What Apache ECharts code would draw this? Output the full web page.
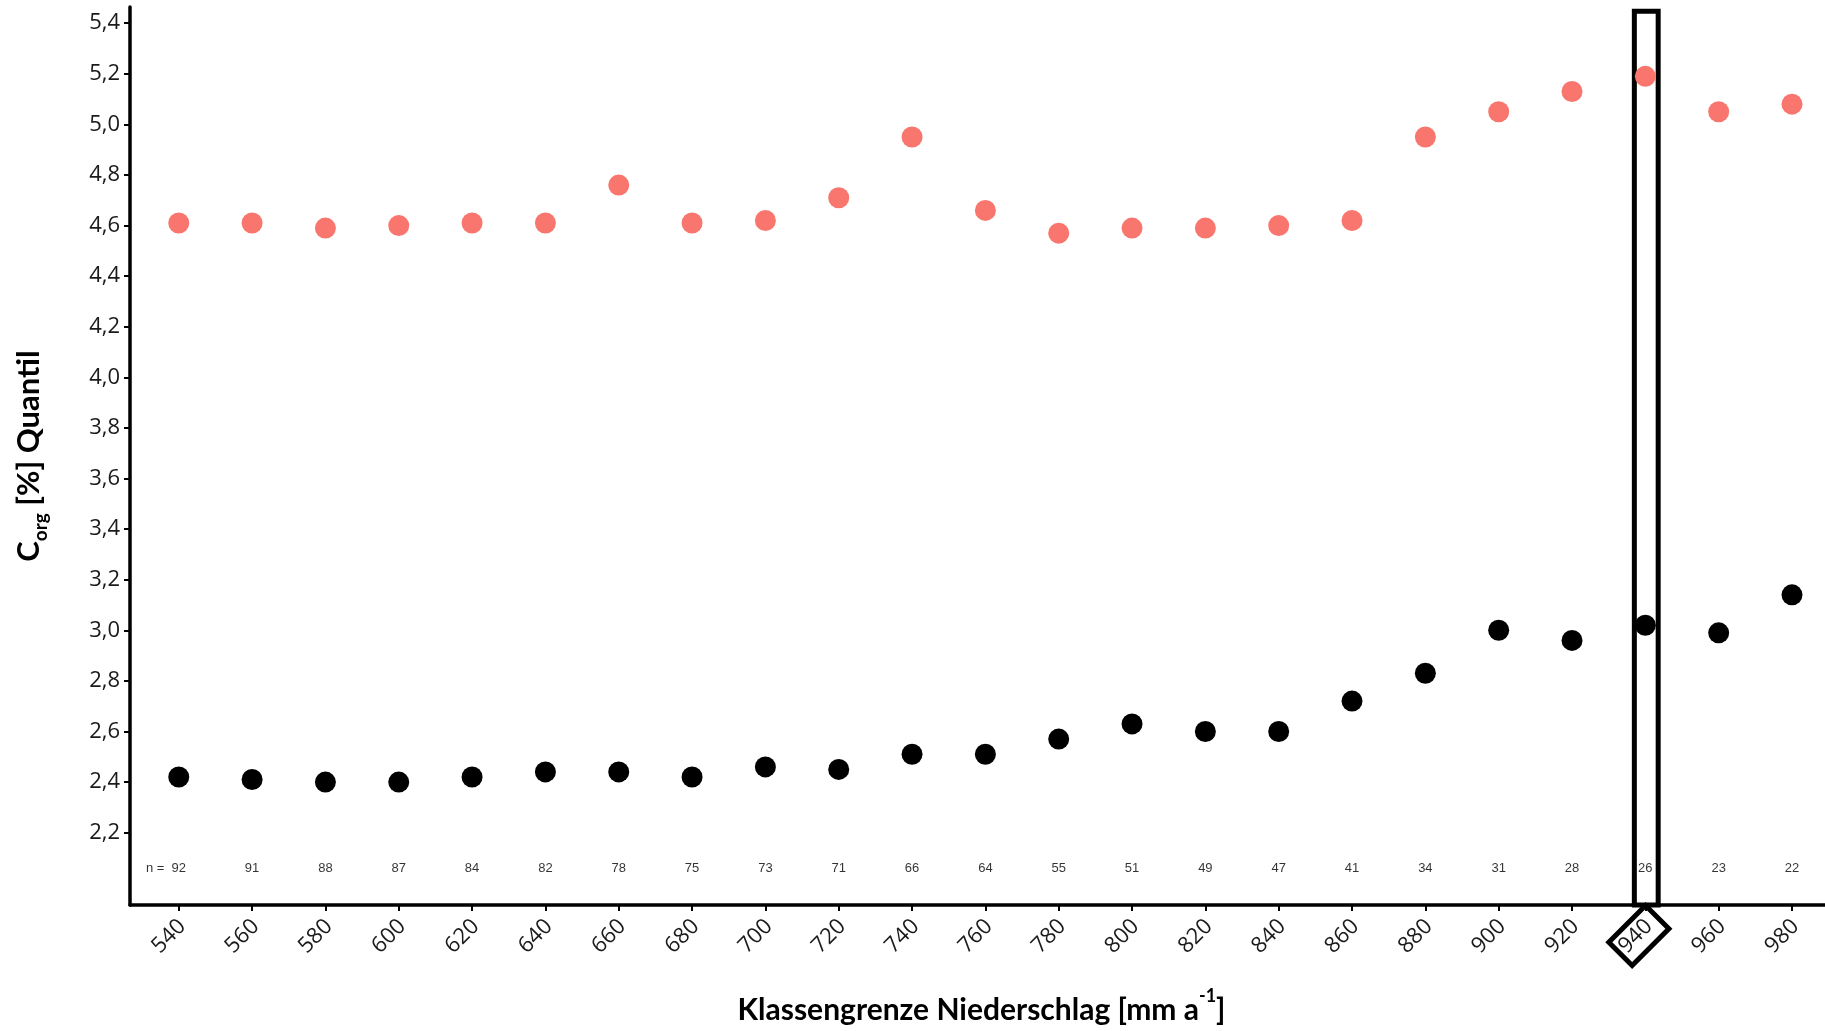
<!DOCTYPE html>
<html>
<head>
<meta charset="utf-8">
<script src="https://cdn.jsdelivr.net/npm/echarts@6/dist/echarts.min.js"></script>
<style>
html,body{margin:0;padding:0;background:#fff;}
#chart{width:1825px;height:1031px;}
</style>
</head>
<body>
<div id="chart"></div>
<script>
// Klassengrenze Niederschlag [mm a-1]
const classLimits = [540,560,580,600,620,640,660,680,700,720,740,760,780,800,820,840,860,880,900,920,940,960,980];
// upper quantile (red)
const upperQuantile = [4.61,4.61,4.59,4.60,4.61,4.61,4.76,4.61,4.62,4.71,4.95,4.66,4.57,4.59,4.59,4.60,4.62,4.95,5.05,5.13,5.19,5.05,5.08];
// lower quantile (black)
const lowerQuantile = [2.42,2.41,2.40,2.40,2.42,2.44,2.44,2.42,2.46,2.45,2.51,2.51,2.57,2.63,2.60,2.60,2.72,2.83,3.00,2.96,3.02,2.99,3.14];
// sample size per class
const sampleCounts = [92,91,88,87,84,82,78,75,73,71,66,64,55,51,49,47,41,34,31,28,26,23,22];
// y tick labels
const yTicks = [2.2,2.4,2.6,2.8,3.0,3.2,3.4,3.6,3.8,4.0,4.2,4.4,4.6,4.8,5.0,5.2,5.4];
const nLabelLevel = 2.060;
const highlightClass = 940;

const yMin = 1.914, yMax = 5.464;
const xMin = 526.7, xMax = 989.0;

const chart = echarts.init(document.getElementById('chart'), null, {renderer: 'canvas'});

const fmtComma = v => Number(v).toFixed(1).replace('.', ',');

const option = {
  backgroundColor: '#ffffff',
  animation: false,
  grid: {left: 130, right: 0, top: 7, bottom: 126, containLabel: false},
  xAxis: {
    type: 'value',
    min: xMin, max: xMax,
    splitLine: {show: false},
    axisLine: {show: true, onZero: false, lineStyle: {color: '#000', width: 3.5}},
    axisTick: {show: true, length: 6, lineStyle: {color: '#000', width: 2}, customValues: classLimits},
    axisLabel: {
      customValues: classLimits, rotate: 45, margin: 6,
      verticalAlign: 'top', padding: [0, 6, 0, 0],
      fontFamily: 'Open Sans', fontSize: 22, color: '#1a1a1a'
    },
    name: '{a|Klassengrenze Niederschlag [mm a}{s|-1}{a|]}',
    nameLocation: 'middle',
    nameGap: 82,
    nameTextStyle: {
      padding: [0, 0, 0, 8],
      rich: {
        a: {fontFamily: 'Lato', fontWeight: 'bold', fontSize: 30, color: '#000', lineHeight: 38, verticalAlign: 'bottom'},
        s: {fontFamily: 'Lato', fontWeight: 'bold', fontSize: 18, color: '#000', verticalAlign: 'top'}
      }
    }
  },
  yAxis: {
    type: 'value',
    min: yMin, max: yMax,
    splitLine: {show: false},
    axisLine: {show: true, onZero: false, lineStyle: {color: '#000', width: 3.5}},
    axisTick: {show: true, length: 6, lineStyle: {color: '#000', width: 2}, customValues: yTicks},
    axisLabel: {
      customValues: yTicks, formatter: fmtComma, margin: 10,
      fontFamily: 'Open Sans', fontSize: 22, color: '#1a1a1a'
    },
    name: '{a|C}{b|org}{a| [%] Quantil}',
    nameLocation: 'middle',
    nameRotate: 90,
    nameGap: 80,
    nameTextStyle: {
      rich: {
        a: {fontFamily: 'Lato', fontWeight: 'bold', fontSize: 31, color: '#000', lineHeight: 42, verticalAlign: 'middle'},
        b: {fontFamily: 'Lato', fontWeight: 'bold', fontSize: 19, color: '#000', verticalAlign: 'bottom'}
      }
    }
  },
  series: [
    {
      name: 'upper',
      type: 'scatter',
      symbol: 'circle',
      symbolSize: 21,
      itemStyle: {color: '#F8766D', opacity: 1},
      data: classLimits.map((x, i) => [x, upperQuantile[i]]),
      markArea: {
        silent: true,
        itemStyle: {color: 'rgba(0,0,0,0)', borderColor: '#000', borderWidth: 5},
        data: [[{xAxis: highlightClass - 3.0, yAxis: 5.447}, {xAxis: highlightClass + 3.5, yAxis: yMin}]]
      }
    },
    {
      name: 'lower',
      type: 'scatter',
      symbol: 'circle',
      symbolSize: 21,
      itemStyle: {color: '#000000', opacity: 1},
      data: classLimits.map((x, i) => [x, lowerQuantile[i]])
    },
    {
      name: 'n',
      type: 'scatter',
      symbolSize: 0,
      silent: true,
      data: classLimits.map((x, i) => [x, nLabelLevel]),
      label: {
        show: true, position: 'inside',
        fontFamily: 'Liberation Sans', fontSize: 13, color: '#000',
        // first label carries the "n =" prefix; a transparent copy on the right keeps the count centred on its tick
        formatter: p => p.dataIndex === 0
          ? '{t|n =  ' + sampleCounts[0] + '}{h|n =  }'
          : '{t|' + sampleCounts[p.dataIndex] + '}',
        rich: {
          t: {fontFamily: 'Liberation Sans', fontSize: 13, color: '#000'},
          h: {fontFamily: 'Liberation Sans', fontSize: 13, color: 'rgba(0,0,0,0)'}
        }
      },
      labelLayout: {hideOverlap: false}
    }
  ]
};
chart.setOption(option);

// rotated box around the highlighted tick label
const p = chart.convertToPixel({xAxisIndex: 0, yAxisIndex: 0}, [highlightClass, yMin]);
chart.setOption({
  graphic: [{
    type: 'rect',
    x: p[0] - 6.5,
    y: p[1] + 30.5,
    rotation: Math.PI / 4,
    shape: {x: -26, y: -16.5, width: 52, height: 33},
    style: {fill: 'none', stroke: '#000', lineWidth: 5},
    silent: true,
    z: 100
  }]
});
</script>
</body>
</html>
